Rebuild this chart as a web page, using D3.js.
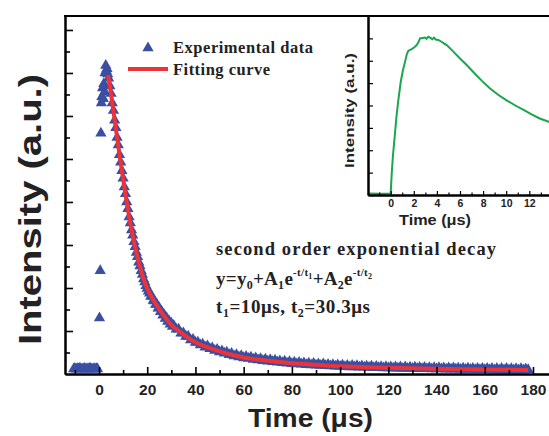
<!DOCTYPE html>
<html>
<head>
<meta charset="utf-8">
<script src="https://cdn.jsdelivr.net/npm/d3@7"></script>
<style>
    body { margin: 0; background: #fff; }
    .sans { font-family: "Liberation Sans", Arial, sans-serif; font-weight: bold; }
    .serif { font-family: "Liberation Serif", "Times New Roman", serif; font-weight: bold; }
</style>
</head>
<body>
<div class="container"></div>
<script>
// experimental data [time (us), intensity]
const preData = [[-10.5, 0.23], [-10, 0.25], [-9.5, 0.22], [-9, 0.24], [-8.5, 0.23], [-8, 0.25], [-7.5, 0.24],
    [-7, 0.22], [-6.5, 0.23], [-6, 0.25], [-5.5, 0.22], [-5, 0.24], [-4.5, 0.23], [-4, 0.25], [-3.5, 0.24],
    [-3, 0.22], [-2.5, 0.23], [-2, 0.24], [-1.5, 0.22], [-1, 0.24], [-0.6, 0.23]];
const riseData = [[0.2, 2.6], [0.5, 4.8], [0.8, 11.2], [1.0, 12.6], [1.2, 12.9], [1.5, 13.3], [1.8, 12.8], [2.0, 13.5],
    [2.3, 13.1], [2.5, 14.0], [2.8, 14.35], [3.0, 14.1], [3.3, 14.2], [3.6, 13.95]];
const decayData = [[4.0, 13.75], [4.5, 13.4], [5.0, 13.05], [5.5, 12.6], [6.0, 12.25], [6.5, 11.8], [7.0, 11.45], [7.5, 11.0],
    [8.0, 10.65], [8.5, 10.2], [9.0, 9.85], [9.5, 9.45], [10.0, 9.1], [10.5, 8.7], [11.0, 8.38], [11.5, 8.0],
    [12.0, 7.68], [12.5, 7.3], [13.0, 7.02], [13.5, 6.7], [14.0, 6.45], [14.5, 6.15], [15.0, 5.92], [15.5, 5.65],
    [16.0, 5.45], [16.5, 5.2], [17.0, 5.02], [17.5, 4.8], [18.0, 4.63], [18.5, 4.42], [19.0, 4.28], [19.5, 4.1],
    [20.0, 3.98], [20.5, 3.85], [21.0, 3.76], [21.5, 3.62], [22.0, 3.6], [22.5, 3.42], [23.0, 3.4], [23.5, 3.23],
    [24.0, 3.24], [24.5, 3.06], [25.0, 3.07], [25.5, 2.89], [26.0, 2.91], [26.5, 2.73], [27.0, 2.76], [27.5, 2.58],
    [28.0, 2.61], [28.5, 2.44], [29.0, 2.48], [29.5, 2.31], [30.0, 2.36], [30.5, 2.21],
    [31, 2.26], [32, 2.08], [33, 2.08], [34, 1.9], [35, 1.91], [36, 1.75], [37, 1.75], [38, 1.58], [39, 1.6], [40, 1.46],
    [41, 1.48], [42, 1.35], [43, 1.38], [44, 1.25], [45, 1.3], [46, 1.17], [47, 1.21], [48, 1.09], [49, 1.14], [50, 1.02],
    [51, 1.07], [52, 0.96], [53, 1.01], [54, 0.89], [55, 0.95], [56, 0.84], [57, 0.9], [58, 0.79], [59, 0.85], [60, 0.75],
    [61, 0.81], [62, 0.72], [63, 0.78], [64, 0.68], [65, 0.74], [66, 0.65], [67, 0.71], [68, 0.62], [69, 0.69], [70, 0.59],
    [71, 0.66], [72, 0.57], [73, 0.64], [74, 0.55], [75, 0.61], [76, 0.52], [77, 0.59], [78, 0.5], [79, 0.57], [80, 0.48],
    [81, 0.55], [82, 0.47], [83, 0.53], [84, 0.45], [85, 0.51], [86, 0.43], [87, 0.5], [88, 0.42], [89, 0.49], [90, 0.41],
    [91, 0.47], [92, 0.39], [93, 0.46], [94, 0.38], [95, 0.44], [96, 0.37], [97, 0.43], [98, 0.36], [99, 0.42], [100, 0.35],
    [101, 0.41], [102, 0.34], [103, 0.4], [104, 0.33], [105, 0.39], [106, 0.32], [107, 0.38], [108, 0.31], [109, 0.37],
    [110, 0.31], [111, 0.36], [112, 0.3], [113, 0.36], [114, 0.29], [115, 0.35], [116, 0.29], [117, 0.34], [118, 0.28],
    [119, 0.34], [120, 0.28], [121, 0.33], [122, 0.27], [123, 0.33], [124, 0.27], [125, 0.32], [126, 0.26], [127, 0.32],
    [128, 0.26], [129, 0.31], [130, 0.25], [131, 0.31], [132, 0.25], [133, 0.3], [134, 0.24], [135, 0.3], [136, 0.24],
    [137, 0.29], [138, 0.23], [139, 0.29], [140, 0.23], [141, 0.29], [142, 0.23], [143, 0.28], [144, 0.22], [145, 0.28],
    [146, 0.22], [147, 0.28], [148, 0.22], [149, 0.27], [150, 0.21], [151, 0.27], [152, 0.21], [153, 0.27], [154, 0.21],
    [155, 0.26], [156, 0.2], [157, 0.26], [158, 0.2], [159, 0.26], [160, 0.2], [161, 0.26], [162, 0.2], [163, 0.25],
    [164, 0.19], [165, 0.25], [166, 0.19], [167, 0.25], [168, 0.19], [169, 0.25], [170, 0.19], [171, 0.24], [172, 0.19],
    [173, 0.24], [174, 0.19], [175, 0.24], [176, 0.19], [177, 0.23], [178, 0.2]];

// fitting curve
const fitCurve = [[3.7, 13.9], [4.5, 13.4], [5.5, 12.6], [6.5, 11.8], [7.5, 11.0], [8.5, 10.2], [9.5, 9.45], [10.5, 8.7],
    [11.5, 8.0], [12.5, 7.3], [13.5, 6.7], [14.5, 6.15], [15.5, 5.65], [16.5, 5.2], [17.5, 4.8], [18.5, 4.42],
    [19.5, 4.1], [20.5, 3.85], [21.5, 3.65], [22.5, 3.45], [24, 3.18], [26, 2.85], [28, 2.55], [30, 2.29], [34, 1.93],
    [38, 1.6], [42, 1.37], [46, 1.2], [50, 1.05], [55, 0.9], [60, 0.77], [66, 0.67], [75, 0.56], [85, 0.46],
    [100, 0.36], [120, 0.29], [140, 0.24], [160, 0.21], [178, 0.19]];

// inset: rise of the signal
const insetCurve = [[-1.9, 0.07], [-1, 0.06], [0, 0.07], [0.09, 0.97], [0.2, 1.8], [0.37, 2.75], [0.5, 3.5], [0.66, 4.24],
    [0.87, 5.06], [1.05, 5.55], [1.24, 5.95], [1.4, 6.3], [1.53, 6.45], [1.82, 6.52], [2.05, 6.6], [2.25, 6.7],
    [2.4, 6.82], [2.54, 7.0], [2.75, 7.02], [2.97, 7.04], [3.1, 6.98], [3.25, 7.07], [3.45, 7.02], [3.6, 6.96],
    [3.75, 7.03], [3.9, 6.95], [4.12, 6.93], [4.4, 6.85], [4.6, 6.78], [4.85, 6.7], [5.4, 6.42], [6.0, 6.1],
    [6.6, 5.8], [7.15, 5.5], [7.9, 5.1], [8.6, 4.76], [9.3, 4.48], [10.0, 4.24], [10.8, 4.0], [11.5, 3.8],
    [12.2, 3.6], [12.9, 3.42], [13.7, 3.27], [14.5, 3.1]];

const xMajor = [0, 20, 40, 60, 80, 100, 120, 140, 160, 180];
const xMinor = [-10, 10, 30, 50, 70, 90, 110, 130, 150, 170, 190];
const yMajor = [2, 4, 6, 8, 10, 12, 14, 16];
const yMinor = [1, 3, 5, 7, 9, 11, 13, 15];
const insetXMajor = [0, 2, 4, 6, 8, 10, 12];
const insetXMinor = [-1, 1, 3, 5, 7, 9, 11, 13, 14, 15];
const insetYMajor = [2, 4, 6];
const insetYMinor = [1, 3, 5, 7];

let width = 549;
let height = 436;

const blue = '#3a4fa3';
const red = '#ec3338';
const green = '#1aa64c';

const svg = d3.select('.container')
    .append('svg')
    .attr('width', width)
    .attr('height', height);

let x = d3.scaleLinear().domain([0, 180]).range([99, 533]);
let y = d3.scaleLinear().domain([0, 16.65]).range([374, 16]);
let xLeft = x.invert(65);

//Main data
const tri = d3.symbol().type(d3.symbolTriangle).size(55);
const allData = preData.concat(riseData, decayData);

svg.append('g')
    .selectAll('path')
    .data(allData)
    .enter()
    .append('path')
    .attr('d', tri)
    .attr('fill', blue)
    .attr('transform', d => 'translate(' + x(d[0]) + ',' + y(d[1]) + ')');

let line = d3.line()
    .x(d => x(d[0]))
    .y(d => y(d[1]))
    .curve(d3.curveMonotoneX);

svg.append('path')
    .datum(fitCurve)
    .attr('d', line)
    .attr('fill', 'none')
    .attr('stroke', red)
    .attr('stroke-width', 4);

//Main axes
let xAxisScale = x.copy().domain([xLeft, 200]).range([65, x(200)]);

let gx = svg.append('g')
    .attr('transform', 'translate(0,374)')
    .attr('class', 'sans')
    .call(d3.axisBottom(xAxisScale).tickValues(xMajor).tickSize(-7).tickSizeOuter(0).tickPadding(10));
gx.selectAll('text').attr('font-size', 15.5).attr('fill', '#222');

svg.append('g')
    .attr('transform', 'translate(0,374)')
    .call(d3.axisBottom(xAxisScale).tickValues(xMinor).tickSize(-4).tickSizeOuter(0).tickFormat(''));

svg.append('g')
    .attr('transform', 'translate(65,0)')
    .call(d3.axisLeft(y).tickValues(yMajor).tickSize(-8).tickSizeOuter(0).tickFormat(''));
svg.append('g')
    .attr('transform', 'translate(65,0)')
    .call(d3.axisLeft(y).tickValues(yMinor).tickSize(-5).tickSizeOuter(0).tickFormat(''));

svg.selectAll('.domain').attr('stroke-width', 2);
svg.selectAll('.tick line').attr('stroke-width', 1.6);

svg.append('line')
    .attr('x1', 64).attr('x2', width)
    .attr('y1', 16).attr('y2', 16)
    .attr('stroke', '#000')
    .attr('stroke-width', 2);

svg.append('text')
    .attr('class', 'sans')
    .attr('x', 248).attr('y', 427)
    .attr('font-size', 25)
    .attr('textLength', 125)
    .attr('lengthAdjust', 'spacingAndGlyphs')
    .attr('fill', '#222')
    .text('Time (μs)');

svg.append('text')
    .attr('class', 'sans')
    .attr('transform', 'translate(41,345) rotate(-90)')
    .attr('font-size', 31)
    .attr('textLength', 271)
    .attr('lengthAdjust', 'spacingAndGlyphs')
    .attr('fill', '#222')
    .text('Intensity (a.u.)');

//Legend
svg.append('path')
    .attr('d', tri)
    .attr('fill', blue)
    .attr('transform', 'translate(148,48)');
svg.append('line')
    .attr('x1', 128).attr('x2', 168)
    .attr('y1', 69).attr('y2', 69)
    .attr('stroke', red)
    .attr('stroke-width', 4);

svg.append('text')
    .attr('class', 'serif')
    .attr('x', 173).attr('y', 53)
    .attr('font-size', 16.5)
    .attr('textLength', 140)
    .attr('fill', '#222')
    .text('Experimental data');
svg.append('text')
    .attr('class', 'serif')
    .attr('x', 173).attr('y', 75)
    .attr('font-size', 16.5)
    .attr('textLength', 97)
    .attr('fill', '#222')
    .text('Fitting curve');

//Annotation
svg.append('text')
    .attr('class', 'serif')
    .attr('x', 216).attr('y', 255)
    .attr('font-size', 18.5)
    .attr('textLength', 280)
    .attr('fill', '#222')
    .text('second order exponential decay');

let eq = svg.append('text')
    .attr('class', 'serif')
    .attr('x', 216).attr('y', 285)
    .attr('font-size', 19)
    .attr('textLength', 156)
    .attr('fill', '#222');
const eqParts = [
    ['y=y', 0, 19], ['0', 4, 12], ['+A', -4, 19], ['1', 4, 12], ['e', -4, 19], ['-t/t', -9, 11], ['1', 3, 8],
    ['+A', 6, 19], ['2', 4, 12], ['e', -4, 19], ['-t/t', -9, 11], ['2', 3, 8]
];
eq.selectAll('tspan')
    .data(eqParts)
    .enter()
    .append('tspan')
    .attr('dy', d => d[1])
    .attr('font-size', d => d[2])
    .text(d => d[0]);

let tt = svg.append('text')
    .attr('class', 'serif')
    .attr('x', 216).attr('y', 313)
    .attr('font-size', 19)
    .attr('textLength', 154)
    .attr('fill', '#222');
const ttParts = [['t', 0, 19], ['1', 4, 12], ['=10μs, t', -4, 19], ['2', 4, 12], ['=30.3μs', -4, 19]];
tt.selectAll('tspan')
    .data(ttParts)
    .enter()
    .append('tspan')
    .attr('dy', d => d[1])
    .attr('font-size', d => d[2])
    .text(d => d[0]);

//Inset
let ix = d3.scaleLinear().domain([0, 12]).range([390.7, 529.3]);
let iy = d3.scaleLinear().domain([0, 8]).range([195, 16]);
let ixLeft = ix.invert(368);

let inset = svg.append('g');
inset.append('rect')
    .attr('x', 368).attr('y', 17)
    .attr('width', width - 368).attr('height', 178)
    .attr('fill', '#fff');

let iline = d3.line()
    .x(d => ix(d[0]))
    .y(d => iy(d[1]))
    .curve(d3.curveLinear);

inset.append('path')
    .datum(insetCurve)
    .attr('d', iline)
    .attr('fill', 'none')
    .attr('stroke', green)
    .attr('stroke-width', 2);

let ixAxisScale = ix.copy().domain([ixLeft, 16]).range([368, ix(16)]);

let igx = inset.append('g')
    .attr('transform', 'translate(0,195)')
    .attr('class', 'sans')
    .call(d3.axisBottom(ixAxisScale).tickValues(insetXMajor).tickSize(-4).tickSizeOuter(0).tickPadding(5));
igx.selectAll('text').attr('font-size', 10.5).attr('fill', '#222');
inset.append('g')
    .attr('transform', 'translate(0,195)')
    .call(d3.axisBottom(ixAxisScale).tickValues(insetXMinor).tickSize(-2.5).tickSizeOuter(0).tickFormat(''));

inset.append('g')
    .attr('transform', 'translate(368,0)')
    .call(d3.axisLeft(iy).tickValues(insetYMajor).tickSize(-5).tickSizeOuter(0).tickFormat(''));
inset.append('g')
    .attr('transform', 'translate(368,0)')
    .call(d3.axisLeft(iy).tickValues(insetYMinor).tickSize(-5).tickSizeOuter(0).tickFormat(''));

inset.selectAll('.domain').attr('stroke-width', 2);
inset.selectAll('.tick line').attr('stroke-width', 1.2);

inset.append('text')
    .attr('class', 'sans')
    .attr('x', 399).attr('y', 225)
    .attr('font-size', 14)
    .attr('textLength', 72)
    .attr('lengthAdjust', 'spacingAndGlyphs')
    .attr('fill', '#222')
    .text('Time (μs)');

inset.append('text')
    .attr('class', 'sans')
    .attr('transform', 'translate(354,168) rotate(-90)')
    .attr('font-size', 13)
    .attr('textLength', 115)
    .attr('lengthAdjust', 'spacingAndGlyphs')
    .attr('fill', '#222')
    .text('Intensity (a.u.)');
</script>
</body>
</html>
